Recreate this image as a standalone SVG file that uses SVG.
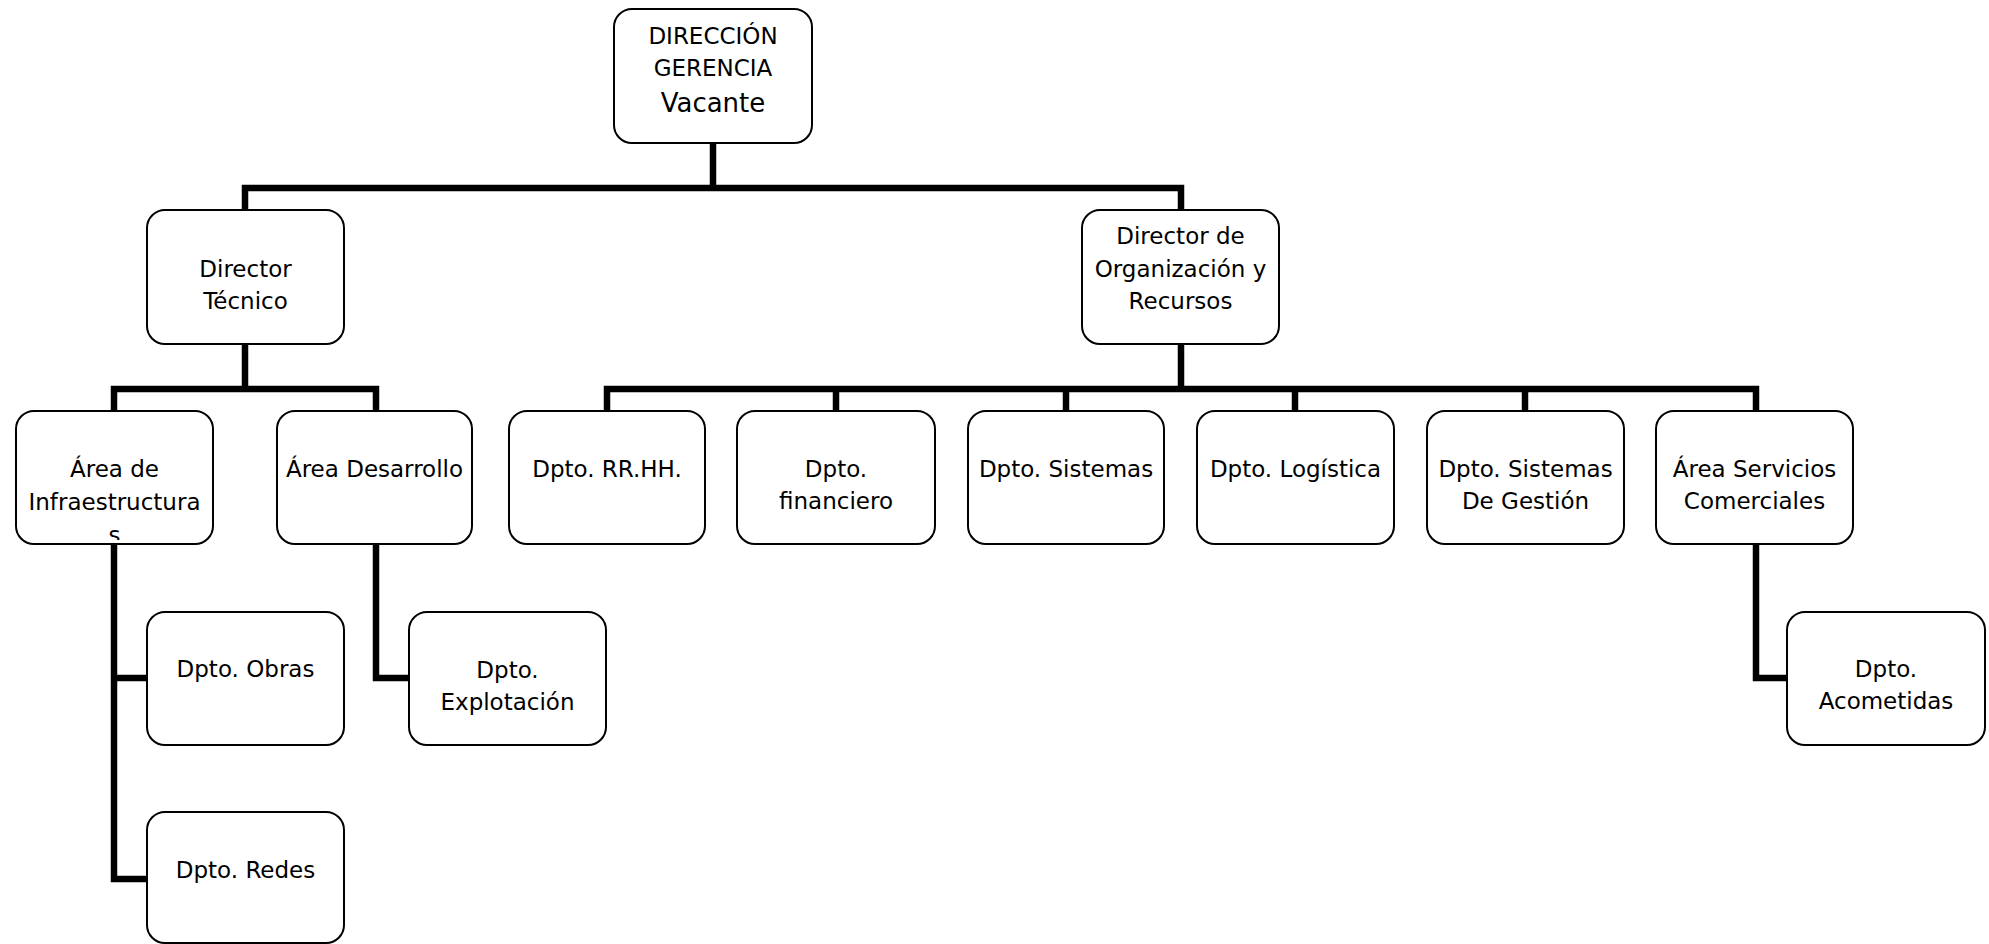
<svg xmlns="http://www.w3.org/2000/svg" width="1989" height="944" viewBox="0 0 1989 944">
  <style>
    .box { fill: #ffffff; stroke: #000000; stroke-width: 2; }
    .lbl { font-family: "DejaVu Sans", Verdana, sans-serif; font-size: 23px; fill: #000000; text-anchor: middle; }
    .big { font-size: 26px; }
    .wire { fill: none; stroke: #000000; stroke-width: 6.5; stroke-linejoin: miter; stroke-linecap: butt; }
  </style>
  <defs>
    <clipPath id="clip-infra">
      <rect x="16" y="411" width="197" height="129"/>
    </clipPath>
  </defs>
  <rect width="1989" height="944" fill="#ffffff"/>

  <!-- connectors -->
  <g id="connectors">
    <path class="wire" d="M713,143 V188"/>
    <path class="wire" d="M245,210 V188 H1181 V210"/>
    <path class="wire" d="M245,344 V389"/>
    <path class="wire" d="M114,411 V389 H376 V411"/>
    <path class="wire" d="M114,544 V879 H147"/>
    <path class="wire" d="M114,678 H147"/>
    <path class="wire" d="M376,544 V678 H409"/>
    <path class="wire" d="M1181,344 V389"/>
    <path class="wire" d="M607,411 V389 H1756 V411"/>
    <path class="wire" d="M836,389 V411"/>
    <path class="wire" d="M1066,389 V411"/>
    <path class="wire" d="M1295,389 V411"/>
    <path class="wire" d="M1525,389 V411"/>
    <path class="wire" d="M1756,544 V678 H1787"/>
  </g>

  <!-- level 0 -->
  <g id="direccion-gerencia">
    <rect class="box" x="614" y="9" width="198" height="134" rx="18"/>
    <text class="lbl" x="713" y="44">DIRECCIÓN</text>
    <text class="lbl" x="713" y="76">GERENCIA</text>
    <text class="lbl big" x="713" y="112">Vacante</text>
  </g>

  <!-- level 1 -->
  <g id="director-tecnico">
    <rect class="box" x="147" y="210" width="197" height="134" rx="18"/>
    <text class="lbl" x="245.5" y="277">Director</text>
    <text class="lbl" x="245.5" y="309">Técnico</text>
  </g>
  <g id="director-organizacion">
    <rect class="box" x="1082" y="210" width="197" height="134" rx="18"/>
    <text class="lbl" x="1180.5" y="244">Director de</text>
    <text class="lbl" x="1180.5" y="277">Organización y</text>
    <text class="lbl" x="1180.5" y="309">Recursos</text>
  </g>

  <!-- level 2 -->
  <g id="area-infraestructuras">
    <rect class="box" x="16" y="411" width="197" height="133" rx="18"/>
    <g clip-path="url(#clip-infra)">
      <text class="lbl" x="114.5" y="477">Área de</text>
      <text class="lbl" x="114.5" y="510">Infraestructura</text>
      <text class="lbl" x="114.5" y="543">s</text>
    </g>
  </g>
  <g id="area-desarrollo">
    <rect class="box" x="277" y="411" width="195" height="133" rx="18"/>
    <text class="lbl" x="374.5" y="477">Área Desarrollo</text>
  </g>
  <g id="dpto-rrhh">
    <rect class="box" x="509" y="411" width="196" height="133" rx="18"/>
    <text class="lbl" x="607" y="477">Dpto. RR.HH.</text>
  </g>
  <g id="dpto-financiero">
    <rect class="box" x="737" y="411" width="198" height="133" rx="18"/>
    <text class="lbl" x="836" y="477">Dpto.</text>
    <text class="lbl" x="836" y="509">financiero</text>
  </g>
  <g id="dpto-sistemas">
    <rect class="box" x="968" y="411" width="196" height="133" rx="18"/>
    <text class="lbl" x="1066" y="477">Dpto. Sistemas</text>
  </g>
  <g id="dpto-logistica">
    <rect class="box" x="1197" y="411" width="197" height="133" rx="18"/>
    <text class="lbl" x="1295.5" y="477">Dpto. Logística</text>
  </g>
  <g id="dpto-sistemas-gestion">
    <rect class="box" x="1427" y="411" width="197" height="133" rx="18"/>
    <text class="lbl" x="1525.5" y="477">Dpto. Sistemas</text>
    <text class="lbl" x="1525.5" y="509">De Gestión</text>
  </g>
  <g id="area-servicios-comerciales">
    <rect class="box" x="1656" y="411" width="197" height="133" rx="18"/>
    <text class="lbl" x="1754.5" y="477">Área Servicios</text>
    <text class="lbl" x="1754.5" y="509">Comerciales</text>
  </g>

  <!-- level 3 -->
  <g id="dpto-obras">
    <rect class="box" x="147" y="612" width="197" height="133" rx="18"/>
    <text class="lbl" x="245.5" y="677">Dpto. Obras</text>
  </g>
  <g id="dpto-redes">
    <rect class="box" x="147" y="812" width="197" height="131" rx="18"/>
    <text class="lbl" x="245.5" y="878">Dpto. Redes</text>
  </g>
  <g id="dpto-explotacion">
    <rect class="box" x="409" y="612" width="197" height="133" rx="18"/>
    <text class="lbl" x="507.5" y="678">Dpto.</text>
    <text class="lbl" x="507.5" y="710">Explotación</text>
  </g>
  <g id="dpto-acometidas">
    <rect class="box" x="1787" y="612" width="198" height="133" rx="18"/>
    <text class="lbl" x="1886" y="677">Dpto.</text>
    <text class="lbl" x="1886" y="709">Acometidas</text>
  </g>
</svg>
